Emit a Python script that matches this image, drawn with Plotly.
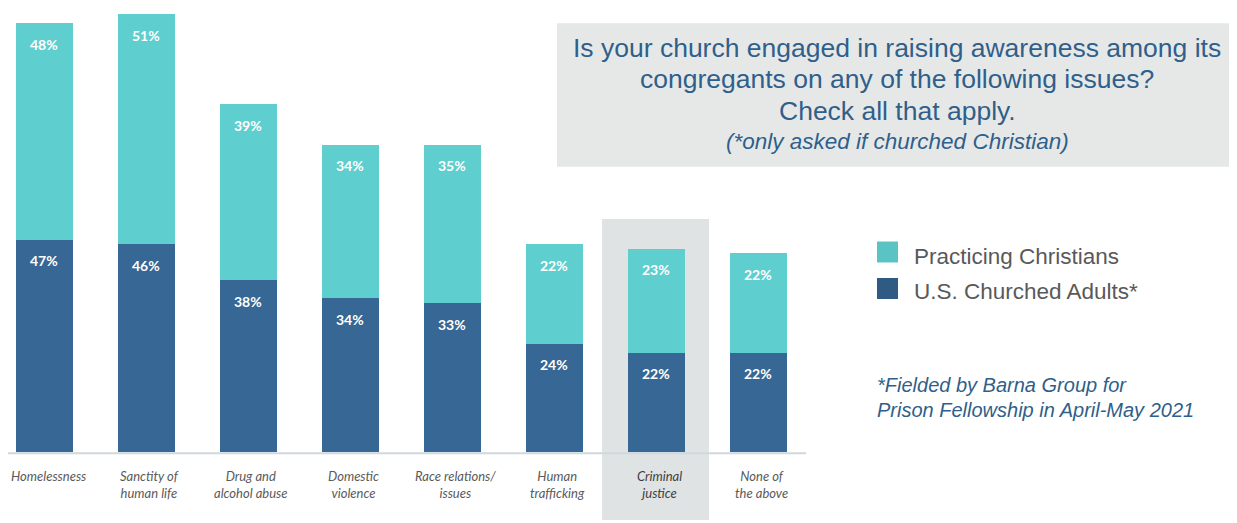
import plotly.graph_objects as go

categories = ["Homelessness", "Sanctity of<br>human life", "Drug and<br>alcohol abuse",
              "Domestic<br>violence", "Race relations/<br>issues", "Human<br>trafficking",
              "Criminal<br>justice", "None of<br>the above"]
churched_adults = [47, 46, 38, 34, 33, 24, 22, 22]
practicing_christians = [48, 51, 39, 34, 35, 22, 23, 22]
highlight_index = 6

TEAL = "#5FCECE"
NAVY = "#376794"
TITLE_BLUE = "#2F5F8A"

OFF = 8  # page body margin
W, H = 1237 - OFF, 523 - OFF
PLOT_H = 452 - OFF  # plot area height (baseline at page y=452)
STEP = 102.0
X0 = (44.2 - OFF) / STEP
xr = [-X0, W / STEP - X0]


def px_x(p):
    return (p - OFF) / STEP - X0


def pxp(p):
    return (p - OFF) / W


def py(p):
    return (PLOT_H - (p - OFF)) / PLOT_H


xs = list(range(len(categories)))

fig = go.Figure()
fig.add_trace(go.Bar(x=xs, y=churched_adults, name="U.S. Churched Adults*",
                     marker=dict(color=NAVY, line=dict(width=0)), width=0.56,
                     hoverinfo="skip"))
fig.add_trace(go.Bar(x=xs, y=practicing_christians, name="Practicing Christians",
                     marker=dict(color=TEAL, line=dict(width=0)), width=0.56,
                     hoverinfo="skip"))

ann = []
for i in xs:
    b = churched_adults[i]
    t = practicing_christians[i]
    ann.append(dict(x=i, y=b, xref="x", yref="y", text=f"{b}%", showarrow=False,
                    yanchor="middle", yshift=-21,
                    font=dict(family="Lato", size=14, color="white", weight="bold")))
    ann.append(dict(x=i, y=b + t, xref="x", yref="y", text=f"{t}%", showarrow=False,
                    yanchor="middle", yshift=-21,
                    font=dict(family="Lato", size=14, color="white", weight="bold")))

# category labels
for i, c in enumerate(categories):
    col = "#3E3E3E" if i == highlight_index else "#5A5A5A"
    ann.append(dict(x=i, y=py(466), xref="x", yref="paper", text=c, showarrow=False,
                    yanchor="top", align="center", xshift=4 if i == 0 else 3,
                    font=dict(family="Lato", size=13, color=col, style="italic")))

# title box text
title_lines = [("Is your church engaged in raising awareness among its", 48, 26.5, "normal"),
               ("congregants on any of the following issues?", 79, 26.5, "normal"),
               ("Check all that apply.", 110.5, 26.5, "normal"),
               ("(*only asked if churched Christian)", 141, 22.5, "italic")]
for txt, yy, sz, st in title_lines:
    ann.append(dict(x=pxp(897), y=py(yy), xref="paper", yref="paper", text=txt,
                    showarrow=False, xanchor="center", yanchor="middle",
                    font=dict(family="Liberation Sans, Arial", size=sz, color=TITLE_BLUE,
                              style=st)))

# legend
legend_items = [("Practicing Christians", "#5AC4C4", 252, 256),
                ("U.S. Churched Adults*", "#2E5A84", 288.5, 291)]
shapes = []
for txt, col, sq_c, tx_c in legend_items:
    shapes.append(dict(type="rect", xref="paper", yref="paper",
                       x0=pxp(877), x1=pxp(898), y0=py(sq_c + 10.5), y1=py(sq_c - 10.5),
                       fillcolor=col, line=dict(width=0)))
    ann.append(dict(x=pxp(912), y=py(tx_c), xref="paper", yref="paper", text=txt,
                    showarrow=False, xanchor="left", yanchor="middle",
                    font=dict(family="Liberation Sans, Arial", size=22.5, color="#595959")))

# footnote
for txt, yy in [("*Fielded by Barna Group for", 385), ("Prison Fellowship in April-May 2021", 410)]:
    ann.append(dict(x=pxp(875), y=py(yy), xref="paper", yref="paper", text=txt,
                    showarrow=False, xanchor="left", yanchor="middle",
                    font=dict(family="Liberation Sans, Arial", size=20, color=TITLE_BLUE,
                              style="italic")))

# highlight column
shapes.append(dict(type="rect", xref="x", yref="paper", layer="below",
                   x0=px_x(602), x1=px_x(709), y0=py(520), y1=py(219),
                   fillcolor="#DFE3E4", line=dict(width=0)))
# title box
shapes.append(dict(type="rect", xref="paper", yref="paper", layer="below",
                   x0=pxp(557), x1=1.0, y0=py(166.7), y1=py(23.3),
                   fillcolor="#E6E8E8", line=dict(width=0)))
# baseline
shapes.append(dict(type="line", xref="paper", yref="paper",
                   x0=0, x1=pxp(806), y0=py(453.3), y1=py(453.3),
                   line=dict(color="#CFD8DC", width=2)))

fig.update_layout(
    barmode="stack",
    width=W, height=H,
    margin=dict(l=0, r=0, t=0, b=H - PLOT_H, pad=0),
    paper_bgcolor="white", plot_bgcolor="rgba(0,0,0,0)",
    showlegend=False,
    xaxis=dict(range=xr, showgrid=False, zeroline=False, showline=False,
               showticklabels=False, fixedrange=True),
    yaxis=dict(range=[0, PLOT_H / 4.515], showgrid=False, zeroline=False,
               showline=False, showticklabels=False, fixedrange=True),
    annotations=ann,
    shapes=shapes,
)

fig.write_html("out.html")
